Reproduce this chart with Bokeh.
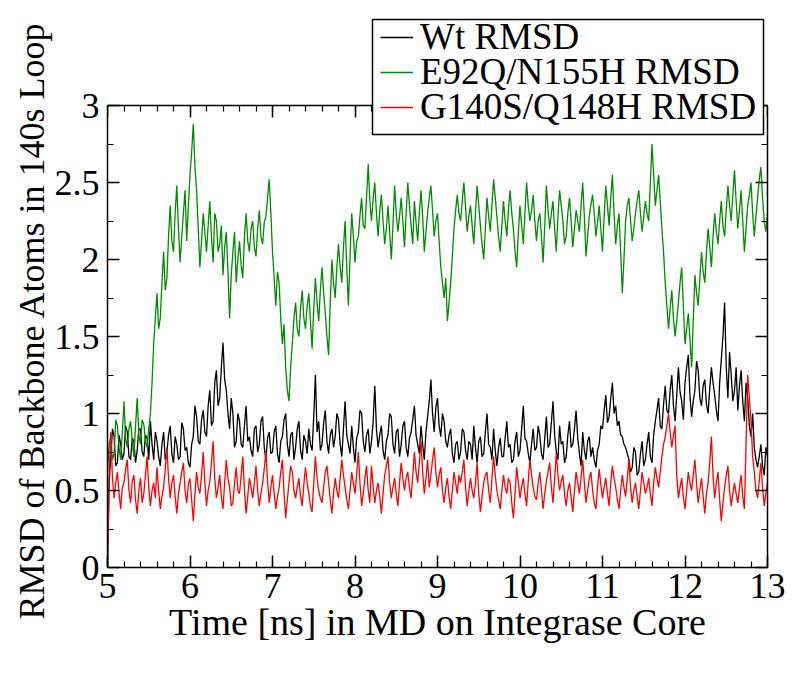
from bokeh.plotting import figure
from bokeh.models import (LinearAxis, SingleIntervalTicker, Range1d, CustomJSTickFormatter,
                          Title, Legend, LegendItem, BoxAnnotation)
from bokeh.embed import file_html
from bokeh.resources import INLINE

# time grid (ns), one sample every 0.02 ns
time_ns = [round(5 + 0.02 * i, 2) for i in range(401)]

wt_rmsd = [
    0.00, 0.55, 0.72, 0.90, 0.85, 0.66, 0.68, 0.86, 0.80, 0.70, 0.74, 0.92, 0.88, 0.72, 0.70, 0.84, 0.82, 0.68, 0.76, 0.90,
    0.90, 0.75, 0.72, 0.86, 0.84, 0.70, 0.95, 0.80, 0.70, 0.88, 0.82, 0.72, 0.66, 0.80, 0.88, 0.70, 0.75, 0.86, 0.92, 0.74,
    0.68, 0.85, 0.80, 0.70, 0.72, 0.94, 0.90, 0.76, 0.78, 0.68, 0.65, 0.80, 0.85, 1.05, 0.98, 0.82, 0.80, 0.96, 1.02, 0.88,
    0.85, 1.05, 1.15, 0.92, 0.95, 1.20, 1.28, 1.05, 1.10, 1.30, 1.46, 1.22, 1.15, 1.00, 0.90, 1.10, 1.00, 0.78, 0.82, 1.00,
    0.95, 0.80, 0.78, 0.92, 1.05, 0.82, 0.85, 0.76, 0.72, 0.90, 0.92, 0.75, 0.80, 0.95, 0.98, 0.78, 0.70, 0.84, 0.88, 0.74,
    0.75, 0.88, 0.92, 0.74, 0.68, 0.82, 0.85, 0.96, 1.00, 0.80, 0.72, 0.86, 0.88, 0.70, 0.78, 0.90, 0.95, 0.76, 0.70, 0.86,
    0.82, 0.74, 0.90, 0.80, 0.76, 0.98, 1.25, 0.88, 0.95, 0.76, 0.80, 0.94, 1.02, 0.82, 0.74, 0.86, 0.90, 0.78, 0.85, 1.00,
    0.96, 0.80, 0.72, 0.90, 1.08, 0.86, 0.80, 0.74, 0.92, 0.78, 0.68, 0.84, 0.88, 1.02, 1.00, 0.82, 0.75, 0.86, 0.90, 0.74,
    0.82, 0.95, 1.18, 0.90, 0.78, 0.86, 0.92, 0.76, 0.70, 0.82, 0.86, 1.00, 0.98, 0.80, 0.74, 0.88, 0.90, 0.72, 0.80, 0.92,
    0.95, 0.78, 0.72, 0.84, 0.88, 0.96, 1.05, 0.86, 0.80, 0.74, 0.92, 0.80, 0.70, 0.88, 0.98, 1.08, 1.22, 1.00, 0.88, 1.04,
    1.10, 0.92, 0.85, 1.00, 0.95, 0.82, 0.78, 0.86, 0.90, 0.74, 0.68, 0.80, 0.82, 0.70, 0.75, 0.90, 0.88, 0.76, 0.70, 0.82,
    0.80, 0.70, 0.92, 0.78, 0.68, 0.82, 0.85, 0.72, 0.74, 0.88, 1.00, 0.80, 0.78, 0.70, 0.90, 0.76, 0.66, 0.78, 0.84, 0.72,
    0.72, 0.84, 0.95, 0.78, 0.80, 0.68, 0.70, 0.82, 0.88, 0.72, 0.76, 0.90, 1.05, 0.84, 0.82, 0.74, 0.68, 0.80, 0.90, 0.76,
    0.78, 0.92, 0.86, 0.74, 0.70, 0.84, 0.98, 0.78, 0.80, 0.94, 1.08, 0.86, 0.75, 0.70, 0.92, 0.80, 0.82, 0.68, 0.72, 0.86,
    0.95, 0.78, 0.80, 0.90, 1.02, 0.84, 0.74, 0.66, 0.88, 0.76, 0.70, 0.82, 0.85, 0.72, 0.78, 0.70, 0.65, 0.76, 0.80, 0.92,
    0.90, 1.02, 1.12, 0.94, 0.98, 1.10, 1.20, 1.00, 1.05, 0.92, 0.95, 0.86, 0.85, 0.80, 0.78, 0.74, 0.70, 0.62, 0.65, 0.78,
    0.75, 0.60, 0.62, 0.74, 0.82, 0.66, 0.70, 0.80, 0.88, 0.72, 0.68, 0.86, 0.95, 1.02, 1.10, 0.92, 0.90, 1.06, 1.18, 1.02,
    1.00, 1.15, 1.25, 1.05, 0.95, 1.12, 1.30, 1.14, 1.08, 0.96, 1.20, 1.30, 1.38, 1.12, 0.98, 1.08, 1.15, 1.34, 1.28, 1.10,
    1.05, 1.18, 1.22, 1.06, 1.00, 1.16, 1.30, 1.20, 1.12, 1.02, 0.95, 1.20, 1.35, 1.50, 1.72, 1.30, 1.10, 1.40, 1.25, 1.08,
    1.15, 1.30, 1.02, 1.18, 1.28, 1.08, 0.95, 1.20, 1.10, 0.92, 0.85, 1.00, 0.78, 0.70, 0.65, 0.72, 0.80, 0.66, 0.60, 0.78,
    0.72,
]

e92q_rmsd = [
    0.62, 0.80, 0.85, 0.70, 0.74, 0.96, 0.92, 0.78, 0.70, 0.88, 1.08, 0.84, 0.78, 0.90, 0.95, 0.82, 0.72, 0.92, 1.10, 0.86,
    0.80, 0.96, 0.93, 0.82, 0.78, 0.90, 1.00, 1.20, 1.45, 1.62, 1.78, 1.55, 1.62, 1.85, 2.05, 1.80, 1.88, 2.15, 2.35, 2.12,
    2.05, 2.30, 2.48, 2.20, 1.98, 2.15, 2.30, 2.45, 2.12, 2.35, 2.55, 2.70, 2.88, 2.60, 2.45, 2.20, 1.95, 2.12, 2.30, 2.18,
    2.05, 2.22, 2.38, 2.15, 1.98, 2.30, 2.25, 2.05, 2.10, 2.22, 1.90, 2.08, 2.18, 1.92, 1.62, 1.90, 2.05, 2.18, 1.85, 2.00,
    2.12, 1.96, 1.88, 2.15, 2.30, 2.12, 2.05, 2.20, 2.25, 2.08, 2.02, 2.20, 2.32, 2.15, 2.10, 2.24, 2.28, 2.40, 2.52, 2.30,
    2.05, 1.88, 1.70, 1.92, 1.85, 1.62, 1.45, 1.58, 1.30, 1.15, 1.08, 1.30, 1.45, 1.62, 1.72, 1.55, 1.50, 1.68, 1.80, 1.62,
    1.55, 1.70, 1.78, 1.60, 1.42, 1.68, 1.88, 1.72, 1.60, 1.80, 1.95, 1.78, 1.65, 1.50, 1.38, 1.72, 2.00, 1.85, 1.75, 1.95,
    2.10, 1.95, 1.85, 2.08, 2.25, 1.95, 1.70, 2.02, 2.30, 2.15, 1.98, 2.12, 2.15, 2.28, 2.40, 2.22, 2.20, 2.40, 2.62, 2.38,
    2.25, 2.40, 2.50, 2.30, 2.15, 2.32, 2.42, 2.25, 2.10, 2.20, 2.35, 2.18, 2.00, 2.22, 2.48, 2.30, 2.18, 2.28, 2.40, 2.25,
    2.08, 2.30, 2.50, 2.35, 2.22, 2.10, 2.38, 2.24, 2.12, 2.30, 2.45, 2.28, 2.05, 2.18, 2.30, 2.40, 2.48, 2.32, 2.15, 2.25,
    2.30, 2.12, 1.95, 1.85, 1.75, 1.88, 1.60, 1.72, 1.85, 2.02, 2.20, 2.32, 2.42, 2.30, 2.25, 2.38, 2.50, 2.34, 2.18, 2.28,
    2.35, 2.22, 2.10, 2.30, 2.48, 2.35, 2.22, 2.10, 2.00, 2.20, 2.40, 2.28, 2.18, 2.35, 2.52, 2.40, 2.28, 2.15, 2.05, 2.22,
    2.38, 2.25, 2.15, 2.32, 2.45, 2.30, 2.20, 2.05, 1.95, 2.18, 2.35, 2.22, 2.10, 2.30, 2.50, 2.35, 2.25, 2.32, 2.42, 2.25,
    2.12, 2.25, 2.30, 2.15, 1.98, 2.22, 2.48, 2.32, 2.20, 2.30, 2.38, 2.20, 2.05, 2.28, 2.45, 2.35, 2.25, 2.10, 2.15, 2.30,
    2.40, 2.25, 2.08, 2.20, 2.32, 2.25, 2.18, 2.35, 2.50, 2.28, 2.02, 2.15, 2.28, 2.36, 2.42, 2.30, 2.15, 2.24, 2.35, 2.20,
    2.05, 2.28, 2.48, 2.35, 2.22, 2.40, 2.55, 2.30, 2.10, 2.22, 2.30, 2.05, 1.78, 2.00, 2.25, 2.35, 2.40, 2.25, 2.12, 2.20,
    2.30, 2.38, 2.45, 2.30, 2.18, 2.28, 2.38, 2.30, 2.25, 2.50, 2.75, 2.55, 2.35, 2.45, 2.55, 2.38, 2.20, 2.05, 1.85, 1.70,
    1.55, 1.68, 1.80, 1.62, 1.50, 1.60, 1.72, 1.85, 1.95, 1.70, 1.45, 1.55, 1.65, 1.48, 1.30, 1.60, 1.90, 1.78, 1.70, 1.88,
    2.05, 1.92, 1.85, 2.05, 2.20, 2.08, 1.95, 2.15, 2.30, 2.18, 2.10, 2.25, 2.38, 2.22, 2.15, 2.32, 2.48, 2.35, 2.25, 2.42,
    2.58, 2.38, 2.20, 2.32, 2.45, 2.25, 2.05, 2.20, 2.35, 2.42, 2.50, 2.30, 2.15, 2.28, 2.40, 2.52, 2.60, 2.40, 2.25, 2.18,
    2.30,
]

g140s_rmsd = [
    0.00, 0.60, 0.88, 0.58, 0.45, 0.55, 0.62, 0.48, 0.38, 0.52, 0.55, 0.64, 0.70, 0.50, 0.42, 0.56, 0.60, 0.44, 0.35, 0.50,
    0.58, 0.42, 0.48, 0.60, 0.72, 0.52, 0.40, 0.50, 0.55, 0.45, 0.65, 0.50, 0.38, 0.46, 0.52, 0.64, 0.78, 0.58, 0.45, 0.55,
    0.60, 0.46, 0.35, 0.48, 0.55, 0.62, 0.68, 0.50, 0.42, 0.54, 0.58, 0.44, 0.30, 0.48, 0.62, 0.52, 0.48, 0.60, 0.75, 0.55,
    0.40, 0.50, 0.56, 0.68, 0.82, 0.58, 0.45, 0.52, 0.60, 0.46, 0.38, 0.55, 0.70, 0.58, 0.52, 0.40, 0.42, 0.55, 0.65, 0.50,
    0.48, 0.60, 0.72, 0.50, 0.35, 0.46, 0.58, 0.52, 0.45, 0.55, 0.66, 0.50, 0.40, 0.48, 0.55, 0.64, 0.75, 0.56, 0.42, 0.52,
    0.60, 0.48, 0.38, 0.46, 0.52, 0.62, 0.70, 0.48, 0.32, 0.44, 0.55, 0.66, 0.62, 0.50, 0.45, 0.52, 0.58, 0.46, 0.40, 0.54,
    0.65, 0.55, 0.48, 0.40, 0.36, 0.55, 0.72, 0.58, 0.50, 0.45, 0.42, 0.52, 0.62, 0.66, 0.55, 0.44, 0.35, 0.48, 0.58, 0.50,
    0.45, 0.58, 0.70, 0.60, 0.52, 0.44, 0.38, 0.50, 0.62, 0.55, 0.48, 0.60, 0.75, 0.55, 0.40, 0.48, 0.58, 0.66, 0.50, 0.42,
    0.66, 0.52, 0.42, 0.50, 0.55, 0.46, 0.35, 0.48, 0.60, 0.66, 0.72, 0.55, 0.45, 0.52, 0.58, 0.48, 0.40, 0.55, 0.68, 0.58,
    0.50, 0.58, 0.62, 0.52, 0.45, 0.60, 0.75, 0.62, 0.55, 0.68, 0.82, 0.62, 0.48, 0.58, 0.70, 0.52, 0.60, 0.70, 0.78, 0.62,
    0.52, 0.60, 0.65, 0.50, 0.42, 0.52, 0.58, 0.46, 0.38, 0.50, 0.62, 0.55, 0.48, 0.60, 0.55, 0.62, 0.70, 0.52, 0.40, 0.50,
    0.58, 0.50, 0.45, 0.55, 0.68, 0.48, 0.36, 0.46, 0.55, 0.60, 0.62, 0.50, 0.42, 0.58, 0.72, 0.60, 0.50, 0.44, 0.38, 0.50,
    0.60, 0.52, 0.48, 0.58, 0.55, 0.42, 0.32, 0.48, 0.65, 0.55, 0.45, 0.52, 0.58, 0.48, 0.40, 0.56, 0.70, 0.60, 0.52, 0.46,
    0.44, 0.55, 0.62, 0.50, 0.38, 0.48, 0.56, 0.62, 0.68, 0.52, 0.42, 0.58, 0.74, 0.60, 0.50, 0.56, 0.60, 0.48, 0.40, 0.50,
    0.55, 0.45, 0.36, 0.50, 0.62, 0.55, 0.48, 0.58, 0.70, 0.55, 0.42, 0.50, 0.58, 0.62, 0.50, 0.42, 0.38, 0.52, 0.64, 0.54,
    0.45, 0.52, 0.58, 0.48, 0.40, 0.55, 0.66, 0.58, 0.52, 0.44, 0.38, 0.50, 0.60, 0.52, 0.46, 0.58, 0.70, 0.52, 0.42, 0.50,
    0.55, 0.46, 0.38, 0.50, 0.62, 0.55, 0.48, 0.52, 0.58, 0.48, 0.40, 0.55, 0.65, 0.58, 0.52, 0.62, 0.72, 0.80, 0.85, 0.92,
    1.00, 0.88, 0.78, 0.86, 0.92, 0.60, 0.45, 0.52, 0.58, 0.46, 0.38, 0.50, 0.62, 0.55, 0.50, 0.60, 0.70, 0.55, 0.42, 0.50,
    0.58, 0.46, 0.35, 0.48, 0.55, 0.68, 0.85, 0.60, 0.45, 0.55, 0.62, 0.44, 0.30, 0.42, 0.52, 0.60, 0.66, 0.50, 0.40, 0.48,
    0.55, 0.48, 0.42, 0.52, 0.60, 0.46, 0.38, 0.80, 1.25, 1.10, 0.95, 0.72, 0.62, 0.50, 0.45, 0.56, 0.68, 0.52, 0.40, 0.48,
    0.55,
]

series_names = ["Wt RMSD", "E92Q/N155H RMSD", "G140S/Q148H RMSD"]
series_colors = ["#000000", "#008b00", "#ff0000"]
y_tick_values = [0, 0.5, 1, 1.5, 2, 2.5, 3]
y_tick_labels = ["0", "0.5", "1", "1.5", "2", "2.5", "3"]
x_min, x_max = 5, 13
y_min, y_max = 0, 3
x_title = "Time [ns] in MD on Integrase Core"
y_title = "RMSD of Backbone Atoms in 140s Loop"

FONT = "Liberation Serif"

# ---- layout (pixels) ----
FRAME_W = 660
PX_PER_UNIT_Y = 154.0
PX_PER_UNIT_X = FRAME_W / (x_max - x_min)
TOP_BORDER = 6
EXTRA_TOP_PX = 99          # frame reaches above y=3 so the legend over the top spine is not clipped
frame_h = int(round((y_max - y_min) * PX_PER_UNIT_Y)) + EXTRA_TOP_PX

# legend box: pixel offsets from the frame's left edge / from the y=0 line
LEG_LEFT, LEG_RIGHT = 265, 656
LEG_TOP, LEG_BOTTOM = 548, 433
LEG_ROW_PITCH = 35
LEG_ROW_H = 44
LEG_FIRST_CENTER = 531      # centre of the first row above the y=0 line
LEG_GLYPH_X = 273

p = figure(
    frame_width=FRAME_W, frame_height=frame_h,
    min_border_left=107, min_border_right=25, min_border_top=TOP_BORDER, min_border_bottom=98,
    x_range=Range1d(x_min, x_max),
    y_range=Range1d(y_min, y_max + EXTRA_TOP_PX / PX_PER_UNIT_Y),
    output_backend="svg", toolbar_location=None,
    background_fill_color="white", border_fill_color="white",
)
p.grid.visible = False
p.outline_line_color = None

renderers = []
for ys, col in zip([wt_rmsd, e92q_rmsd, g140s_rmsd], series_colors):
    renderers.append(p.line(time_ns, ys, line_color=col, line_width=1.3))

xt = SingleIntervalTicker(interval=1, num_minor_ticks=5)
yt = SingleIntervalTicker(interval=0.5, num_minor_ticks=2)
blank = CustomJSTickFormatter(code="return ''")

def style_axis(ax, show_labels):
    ax.axis_line_color = "black"
    ax.axis_line_width = 1.5
    ax.major_tick_line_color = "black"
    ax.minor_tick_line_color = "black"
    ax.major_tick_line_width = 1.5
    ax.minor_tick_line_width = 1.2
    ax.major_tick_in = 12
    ax.major_tick_out = 0
    ax.minor_tick_in = 6
    ax.minor_tick_out = 0
    ax.major_label_text_font = FONT
    ax.major_label_text_color = "black"
    ax.axis_label_text_font = FONT
    ax.axis_label_text_font_style = "normal"
    ax.axis_label_text_color = "black"
    ax.major_label_text_font_size = "36px"
    ax.axis_label_text_font_size = "38px"
    if not show_labels:
        ax.formatter = blank
        ax.major_label_standoff = 0

p.xaxis.ticker = xt
p.yaxis.ticker = yt
p.yaxis.bounds = (y_min, y_max)
style_axis(p.xaxis[0], True)
style_axis(p.yaxis[0], True)
p.xaxis.axis_label = x_title
p.xaxis.major_label_standoff = 6
p.xaxis.axis_label_standoff = 0
p.yaxis.major_label_standoff = 8
p.yaxis.major_label_overrides = {v: s for v, s in zip(y_tick_values, y_tick_labels)}

# y title placed as a side title so it can be aligned toward the top like the original
ytitle = Title(text=y_title, align="right", offset=15, standoff=0,
               text_font=FONT, text_font_size="36px", text_font_style="normal",
               text_color="black")
p.add_layout(ytitle, "left")

top_ax = LinearAxis(ticker=xt, fixed_location=y_max)
right_ax = LinearAxis(ticker=yt, bounds=(y_min, y_max))
style_axis(top_ax, False)
style_axis(right_ax, False)
p.add_layout(top_ax, "above")
p.add_layout(right_ax, "right")

# legend frame (white box with black border)
box = BoxAnnotation(
    left=x_min + LEG_LEFT / PX_PER_UNIT_X, right=x_min + LEG_RIGHT / PX_PER_UNIT_X,
    bottom=y_min + LEG_BOTTOM / PX_PER_UNIT_Y, top=y_min + LEG_TOP / PX_PER_UNIT_Y,
    fill_color="white", fill_alpha=1.0, line_color="black", line_width=1.5, line_alpha=1.0,
    propagate_hover=False,
)
p.add_layout(box)

# one borderless legend per entry so the rows can sit as tightly as in the original
for i, (r, name) in enumerate(zip(renderers, series_names)):
    center = LEG_FIRST_CENTER - i * LEG_ROW_PITCH
    lg = Legend(items=[LegendItem(label=name, renderers=[r])],
                location=(LEG_GLYPH_X, int(round(center - LEG_ROW_H / 2))))
    lg.label_text_font = FONT
    lg.label_text_font_size = "37px"
    lg.label_text_color = "black"
    lg.border_line_color = None
    lg.background_fill_alpha = 0.0
    lg.padding = 0
    lg.spacing = 0
    lg.margin = 0
    lg.glyph_width = 33
    lg.glyph_height = 30
    lg.label_height = 30
    lg.label_standoff = 7
    p.add_layout(lg)

open("out.html", "w").write(file_html(p, INLINE))
